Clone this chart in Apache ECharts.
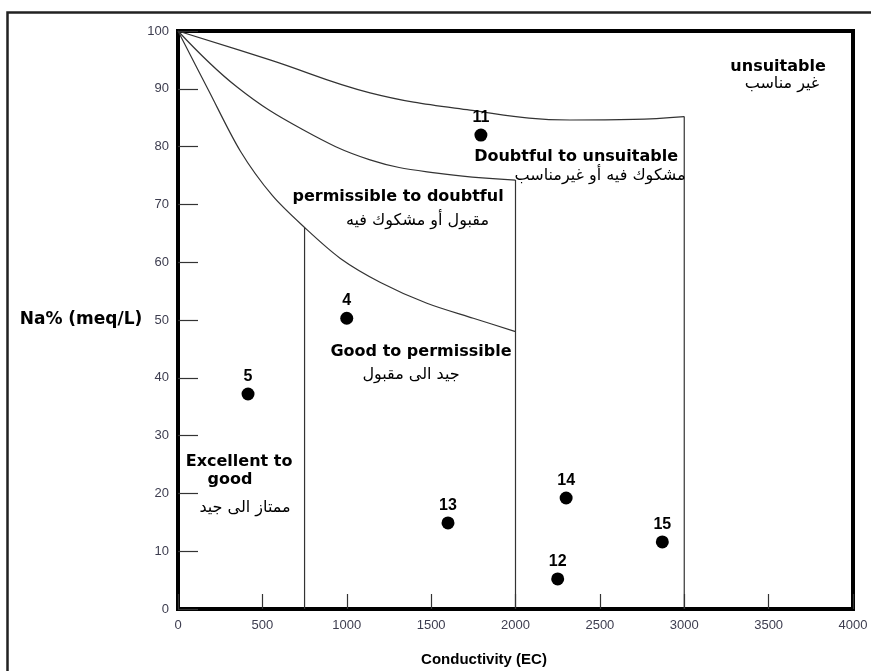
<!DOCTYPE html>
<html>
<head>
<meta charset="utf-8">
<script src="https://cdn.jsdelivr.net/npm/echarts@6/dist/echarts.min.js"></script>
<style>
  html, body { margin: 0; padding: 0; background: #fff; }
  #chart { width: 871px; height: 671px; }
</style>
</head>
<body>
<div id="chart"></div>
<script>
// samples: [EC, Na%]
const sampleIds = ['5', '4', '11', '13', '14', '12', '15']
const sampleEC = [415, 1000, 1795, 1600, 2300, 2250, 2870]
const sampleNa = [37.2, 50.3, 82.0, 14.9, 19.2, 5.2, 11.6]

// class boundary curves
const curveTop = [[0, 100], [545, 95.0], [1138, 89.3], [1730, 86.3], [2323, 84.6], [2700, 84.7], [3000, 85.2]]
const curveMid = [[0, 100], [350, 90.3], [741, 82.9], [1138, 77.7], [1535, 75.4], [2000, 74.2]]
const curveLow = [[0, 100], [180, 89.8], [370, 79.2], [560, 71.5], [750, 66.0], [960, 60.7], [1200, 56.5], [1475, 52.9], [1750, 50.3], [2000, 48.0]]
const verticals = [[[750, 0], [750, 66.0]], [[2000, 0], [2000, 74.2]], [[3000, 0], [3000, 85.2]]]

// zone labels
const zoneEn = [
  ['unsuitable', 3556, 93.8],
  ['Doubtful to unsuitable', 2359, 78.2],
  ['permissible to doubtful', 1304, 71.3],
  ['Good to permissible', 1440, 44.5],
  ['Excellent to', 362, 25.4],
  ['good', 308, 22.3]
]
const zoneAr = [
  ['غير مناسب', 3579, 90.9],
  ['مشكوك فيه أو غيرمناسب', 2501, 74.9],
  ['مقبول أو مشكوك فيه', 1419, 67.1],
  ['جيد الى مقبول', 1381, 40.5],
  ['ممتاز الى جيد', 397, 17.5]
]

const xTicks = { min: 0, max: 4000, interval: 500 }
const yTicks = { min: 0, max: 100, interval: 10 }

const chart = echarts.init(document.getElementById('chart'))

const lineStyle = { color: '#333', width: 1.2 }
function boundary(data, smooth) {
  return {
    type: 'line',
    data: data,
    smooth: smooth,
    symbol: 'none',
    silent: true,
    lineStyle: lineStyle,
    z: 2
  }
}

const series = [
  boundary(curveTop, 0.4),
  boundary(curveMid, 0.4),
  boundary(curveLow, 0.3)
]
verticals.forEach(v => series.push(boundary(v, false)))

series.push({
  type: 'scatter',
  data: zoneEn.map(d => ({ value: [d[1], d[2]], name: d[0] })),
  symbolSize: 0,
  silent: true,
  itemStyle: { opacity: 1 },
  label: {
    show: true,
    position: 'inside',
    formatter: p => p.name,
    fontFamily: 'DejaVu Sans, sans-serif',
    fontWeight: 'bold',
    fontSize: 16,
    color: '#000'
  }
})
series.push({
  type: 'scatter',
  data: zoneAr.map(d => ({ value: [d[1], d[2]], name: d[0] })),
  symbolSize: 0,
  silent: true,
  itemStyle: { opacity: 1 },
  label: {
    show: true,
    position: 'inside',
    formatter: p => p.name,
    fontFamily: 'DejaVu Sans, sans-serif',
    fontSize: 16,
    color: '#000'
  }
})
series.push({
  type: 'scatter',
  data: sampleIds.map((id, i) => ({ value: [sampleEC[i], sampleNa[i]], name: id })),
  symbolSize: 13,
  itemStyle: { color: '#000', opacity: 1 },
  z: 5,
  label: {
    show: true,
    position: 'top',
    distance: 3,
    formatter: p => p.name,
    fontFamily: 'Liberation Sans, Arial, sans-serif',
    fontWeight: 'bold',
    fontSize: 16,
    color: '#000'
  }
})

chart.setOption({
  animation: false,
  backgroundColor: '#fff',
  grid: {
    left: 178, right: 18, top: 31, bottom: 62,
    show: true, borderColor: '#000', borderWidth: 4,
    backgroundColor: 'transparent'
  },
  graphic: [
    {
      type: 'rect',
      left: 5, top: 10,
      shape: { width: 900, height: 700 },
      style: { fill: 'none', stroke: '#222', lineWidth: 2.5 },
      silent: true
    },
    {
      type: 'text',
      x: 81, y: 320,
      style: {
        text: 'Na% (meq/L)',
        font: 'bold 17px DejaVu Sans, sans-serif',
        fill: '#000',
        align: 'center',
        verticalAlign: 'middle'
      }
    },
    {
      type: 'text',
      x: 484, y: 660,
      style: {
        text: 'Conductivity (EC)',
        font: 'bold 15px Liberation Sans, Arial, sans-serif',
        fill: '#000',
        align: 'center',
        verticalAlign: 'middle'
      }
    }
  ],
  xAxis: {
    type: 'value',
    min: xTicks.min, max: xTicks.max, interval: xTicks.interval,
    axisLine: { show: false },
    axisTick: { show: true, inside: true, length: 15, lineStyle: { color: '#333', width: 1.2 } },
    splitLine: { show: false },
    axisLabel: {
      margin: 10,
      formatter: v => String(v),
      fontFamily: 'Liberation Sans Narrow, Liberation Sans, Arial, sans-serif',
      fontSize: 13,
      color: '#3d3d4f'
    }
  },
  yAxis: {
    type: 'value',
    min: yTicks.min, max: yTicks.max, interval: yTicks.interval,
    axisLine: { show: false },
    axisTick: { show: true, inside: true, length: 20, lineStyle: { color: '#333', width: 1.2 } },
    splitLine: { show: false },
    axisLabel: {
      margin: 9,
      formatter: v => String(v),
      fontFamily: 'Liberation Sans Narrow, Liberation Sans, Arial, sans-serif',
      fontSize: 13,
      color: '#3d3d4f'
    }
  },
  series: series
})
</script>
</body>
</html>
